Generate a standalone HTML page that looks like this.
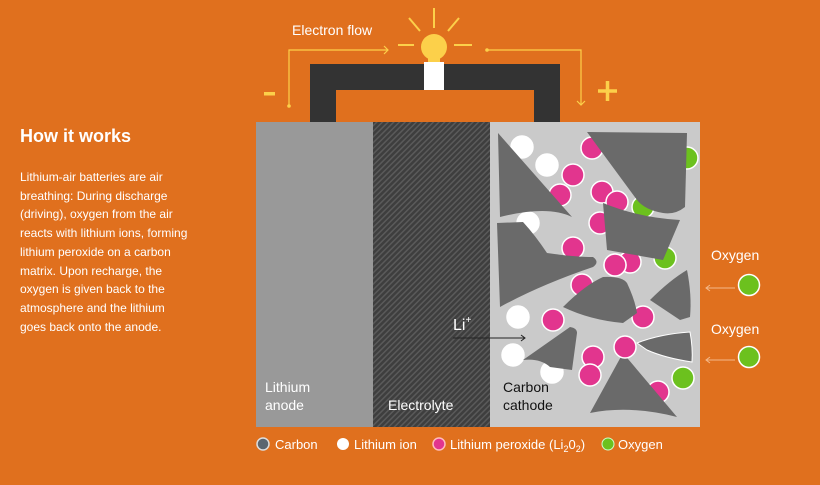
<!DOCTYPE html>
<html><head><style>
body{margin:0;width:820px;height:485px;background:#e0701e;font-family:"Liberation Sans",sans-serif;overflow:hidden;position:relative;color:#fff}
.t{position:absolute}
</style></head><body>
<div class="t" style="left:20px;top:126px;font-size:18px;font-weight:bold">How it works</div>
<div class="t" style="left:20px;top:168px;width:220px;font-size:12px;line-height:18.7px;white-space:nowrap">Lithium-air batteries are air<br>breathing: During discharge<br>(driving), oxygen from the air<br>reacts with lithium ions, forming<br>lithium peroxide on a carbon<br>matrix. Upon recharge, the<br>oxygen is given back to the<br>atmosphere and the lithium<br>goes back onto the anode.</div>
<svg class="t" style="left:0;top:0" width="820" height="485">
<defs><pattern id="h" width="4" height="4" patternUnits="userSpaceOnUse" patternTransform="rotate(45)"><rect width="4" height="4" fill="#3e3e3e"/><rect width="1.5" height="4" fill="#5a5a5a"/></pattern></defs>
<path d="M310,122V64H560V122H534V90H336V122Z" fill="#333"/>
<rect x="424" y="62" width="20" height="28" fill="#fff"/>
<circle cx="434" cy="47" r="13" fill="#fcd04a"/><rect x="428" y="52" width="12" height="10" fill="#fcd04a"/>
<g stroke="#fcd04a" stroke-width="2"><line x1="434" y1="8" x2="434" y2="28"/><line x1="409" y1="18" x2="420" y2="31"/><line x1="459" y1="18" x2="448" y2="31"/><line x1="398" y1="45" x2="414" y2="45"/><line x1="454" y1="45" x2="472" y2="45"/></g>
<g stroke="#fcd04a" stroke-width="1.2" fill="none"><path d="M289,106V50H388"/><path d="M384,46L388,50L384,54"/><path d="M487,50H581V105"/><path d="M577,101L581,105L585,101"/></g>
<circle cx="289" cy="106" r="1.8" fill="#fcd04a"/><circle cx="487" cy="50" r="1.8" fill="#fcd04a"/>
<text x="292" y="35" font-size="14" fill="#fff">Electron flow</text>
<rect x="264" y="92" width="11" height="3.5" fill="#fcd04a"/>
<path d="M598,91H617M607.5,81V101" stroke="#fcd04a" stroke-width="3.5"/>
<rect x="256" y="122" width="117" height="305" fill="#999"/>
<rect x="373" y="122" width="117" height="305" fill="url(#h)"/>
<rect x="490" y="122" width="210" height="305" fill="#cacaca"/>
<g stroke="#fff" stroke-width="1.5">
<g fill="#fff"><circle cx="522" cy="147" r="11"/><circle cx="547" cy="165" r="11"/><circle cx="528" cy="223" r="11"/><circle cx="518" cy="317" r="11"/><circle cx="513" cy="355" r="11"/><circle cx="552" cy="372" r="11"/></g>
<g fill="#e2358e"><circle cx="592" cy="148" r="11"/><circle cx="573" cy="175" r="11"/><circle cx="560" cy="195" r="11"/><circle cx="602" cy="192" r="11"/><circle cx="617" cy="202" r="11"/><circle cx="600" cy="223" r="11"/><circle cx="573" cy="248" r="11"/><circle cx="630" cy="262" r="11"/><circle cx="615" cy="265" r="11"/><circle cx="582" cy="285" r="11"/><circle cx="553" cy="320" r="11"/><circle cx="643" cy="317" r="11"/><circle cx="593" cy="357" r="11"/><circle cx="590" cy="375" r="11"/><circle cx="658" cy="392" r="11"/></g>
<g fill="#6cc11e"><circle cx="687" cy="158" r="11"/><circle cx="643" cy="207" r="11"/><circle cx="665" cy="258" r="11"/><circle cx="683" cy="378" r="11"/></g>
</g>
<g fill="#6a6a6a">
<path d="M498,133L572,217Q548,205 500,217Z"/>
<path d="M587,132L687,133L685,207Q675,215 663,213Q645,210 637,200Z"/>
<path d="M497,223L523,222Q535,235 547,253Q575,257 593,257Q600,262 593,267Q540,285 500,307Z"/>
<path d="M603,203Q640,218 680,220L663,260L607,250Z"/>
<path d="M563,307Q585,285 603,277Q622,276 627,283Q635,300 637,313L623,323Q590,320 563,307Z"/>
<path d="M650,300Q670,280 687,270Q692,295 690,317L680,320Z"/>
<path d="M523,360L570,327Q577,328 577,333L572,370L550,367Q540,358 523,360Z"/>
<path d="M637,343Q660,334 690,332Q693,348 692,362Q665,358 647,350Z" stroke="#fff" stroke-width="1"/>
<path d="M623,353L677,417Q630,405 590,413Z"/>
<circle cx="625" cy="347" r="11" fill="#e2358e" stroke="#fff" stroke-width="1.5"/>
<circle cx="615" cy="265" r="11" fill="#e2358e" stroke="#fff" stroke-width="1.5"/>
</g>
<text x="265" y="392" font-size="14" fill="#fff">Lithium</text><text x="265" y="410" font-size="14" fill="#fff">anode</text>
<text x="388" y="410" font-size="14" fill="#fff">Electrolyte</text>
<text x="503" y="392" font-size="14" fill="#111">Carbon</text><text x="503" y="410" font-size="14" fill="#111">cathode</text>
<text x="453" y="330" font-size="16" fill="#fff">Li<tspan font-size="10" dy="-7">+</tspan></text>
<path d="M453,338H525M521,335L525,338L521,341" stroke="#222" stroke-width="1" fill="none"/>
<text x="711" y="260" font-size="14" fill="#fff">Oxygen</text>
<circle cx="749" cy="285" r="10.5" fill="#6cc11e" stroke="#fff" stroke-width="1.5"/>
<path d="M735,288H706M710,285L706,288L710,291" stroke="#f5b98a" stroke-width="1" fill="none"/>
<text x="711" y="334" font-size="14" fill="#fff">Oxygen</text>
<circle cx="749" cy="357" r="10.5" fill="#6cc11e" stroke="#fff" stroke-width="1.5"/>
<path d="M735,360H706M710,357L706,360L710,363" stroke="#f5b98a" stroke-width="1" fill="none"/>
<g font-size="13" fill="#fff">
<circle cx="263" cy="444" r="6" fill="#5c6670" stroke="#ddd" stroke-width="1.5"/><text x="275" y="449">Carbon</text>
<circle cx="343" cy="444" r="6" fill="#fff"/><text x="354" y="449">Lithium ion</text>
<circle cx="439" cy="444" r="6" fill="#e2358e" stroke="#fbb" stroke-width="1.5"/><text x="450" y="449">Lithium peroxide (Li<tspan font-size="9" dy="3">2</tspan><tspan dy="-3">0</tspan><tspan font-size="9" dy="3">2</tspan><tspan dy="-3">)</tspan></text>
<circle cx="608" cy="444" r="6" fill="#6cc11e" stroke="#cfc" stroke-width="1"/><text x="618" y="449">Oxygen</text>
</g>
</svg>
</body></html>
